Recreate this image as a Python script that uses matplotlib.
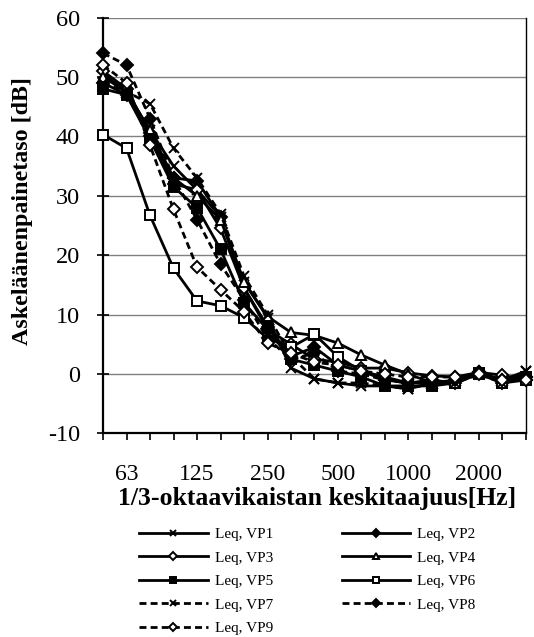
import matplotlib
matplotlib.use('Agg')
import matplotlib.pyplot as plt

plt.rcParams['font.family'] = ['Liberation Serif', 'DejaVu Serif']
plt.rcParams['axes.unicode_minus'] = False

freqs = [50, 63, 80, 100, 125, 160, 200, 250, 315, 400, 500, 630, 800,
         1000, 1250, 1600, 2000, 2500, 3150]
shown_labels = [63, 125, 250, 500, 1000, 2000]

vp1 = [50.5, 47.5, 41.0, 35.0, 31.0, 26.5, 15.5, 9.5, 1.0, -0.8, -1.5, -2.0, -2.0, -2.5, -1.5, -1.5, 0.2, -1.0, 0.5]
vp2 = [49.0, 47.0, 40.0, 33.0, 32.5, 26.5, 14.5, 8.0, 3.0, 4.5, 1.5, 0.5, -1.0, -1.5, -1.0, -1.5, 0.3, -1.5, -0.5]
vp3 = [51.0, 48.0, 40.5, 32.0, 31.0, 24.5, 14.5, 7.5, 5.0, 2.5, 2.0, 1.0, 1.0, 0.2, -0.3, -0.5, 0.3, -0.2, -1.0]
vp4 = [50.0, 47.5, 41.0, 33.0, 30.0, 26.0, 15.5, 9.7, 7.0, 6.5, 5.2, 3.2, 1.5, 0.0, -1.5, -1.0, 0.2, -1.0, 0.0]
vp5 = [48.0, 47.0, 39.5, 31.5, 28.0, 21.0, 12.0, 7.5, 2.5, 1.5, 0.5, -0.5, -2.0, -2.0, -2.0, -1.5, 0.0, -1.5, -0.5]
vp6 = [40.3, 38.0, 26.7, 17.8, 12.3, 11.5, 9.5, 6.0, 4.5, 6.7, 2.9, 0.5, -0.5, -1.5, -1.5, -1.5, 0.2, -1.5, -1.0]
vp7 = [49.0, 47.5, 45.5, 38.0, 33.0, 27.0, 16.5, 10.0, 3.0, -0.8, -1.5, -1.5, -2.0, -2.5, -1.5, -1.5, 0.0, -1.5, 0.5]
vp8 = [54.0, 52.0, 43.0, 33.0, 26.0, 18.5, 12.5, 6.0, 2.5, 3.5, 0.5, 0.0, -1.0, -1.5, -1.5, -1.0, 0.3, -1.0, -0.5]
vp9 = [52.0, 49.0, 38.5, 27.7, 18.0, 14.2, 10.5, 5.2, 3.5, 2.0, 1.5, 0.5, 0.0, -0.5, -0.5, -0.5, 0.0, -1.0, -1.0]

series = [vp1, vp2, vp3, vp4, vp5, vp6, vp7, vp8, vp9]
names = ['Leq, VP1', 'Leq, VP2', 'Leq, VP3', 'Leq, VP4', 'Leq, VP5',
         'Leq, VP6', 'Leq, VP7', 'Leq, VP8', 'Leq, VP9']

dash = (0, (2.5, 1.5))
styles = [
    dict(ls='-', marker='x', mfc='black', ms=7),
    dict(ls='-', marker='D', mfc='black', ms=6.5),
    dict(ls='-', marker='D', mfc='white', ms=6.5),
    dict(ls='-', marker='^', mfc='white', ms=7.5),
    dict(ls='-', marker='s', mfc='black', ms=6.5),
    dict(ls='-', marker='s', mfc='white', ms=6.5),
    dict(ls=dash, marker='x', mfc='black', ms=7),
    dict(ls=dash, marker='D', mfc='black', ms=6.5),
    dict(ls=dash, marker='D', mfc='white', ms=6.5),
]

fig = plt.figure(figsize=(5.34, 6.37), dpi=100)
ax = fig.add_axes([0.1929, 0.3195, 0.7921, 0.653])

x = list(range(len(freqs)))
handles = []
for vals, st, nm in zip(series, styles, names):
    h, = ax.plot(x, vals, color='black', lw=2.0, linestyle=st['ls'],
                 marker=st['marker'], markersize=st['ms'],
                 markerfacecolor=st['mfc'], markeredgecolor='black',
                 markeredgewidth=1.4, label=nm, clip_on=False, zorder=3)
    handles.append(h)

ax.set_xlim(0, len(freqs) - 1)
ax.set_ylim(-10, 60)
ax.set_yticks(range(-10, 61, 10))
ax.set_xticks(x)
ax.set_xticklabels([str(f) if f in shown_labels else '' for f in freqs])

for yv in range(0, 61, 10):
    ax.axhline(yv, color='#808080', lw=1.0, zorder=1)

for s in ['left', 'bottom']:
    ax.spines[s].set_linewidth(1.6)
    ax.spines[s].set_color('black')
ax.spines['right'].set_linewidth(1.0)
ax.spines['top'].set_visible(False)

ax.tick_params(axis='y', direction='inout', length=9, width=1.2,
               labelsize=17.5, pad=12)
ax.tick_params(axis='x', direction='out', length=5, width=1.2,
               labelsize=17, pad=17)

fig.text(317.5 / 534, 1 - 505 / 637, '1/3-oktaavikaistan keskitaajuus[Hz]',
         ha='center', va='baseline', fontsize=18.5, fontweight='bold')
fig.text(23 / 534, 1 - 211.5 / 637, 'Askeläänenpainetaso [dB]',
         ha='center', va='center', rotation=90, fontsize=17.3,
         fontweight='bold')

order = [0, 2, 4, 6, 8, 1, 3, 5, 7]
fig.legend([handles[i] for i in order], [names[i] for i in order],
           ncol=2, loc='upper left', bbox_to_anchor=(139 / 534, 0.172),
           frameon=False, handlelength=4.5, handletextpad=0.45,
           columnspacing=4.5, labelspacing=0.64, fontsize=11,
           markerscale=0.6, borderpad=0, borderaxespad=0)

fig.savefig('out.png', dpi=100)
